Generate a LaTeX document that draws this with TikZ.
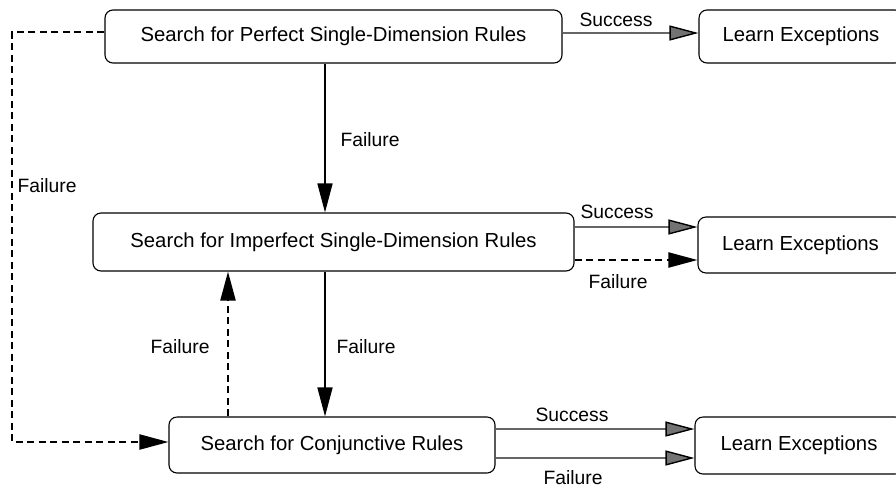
\documentclass[tikz,border=0pt]{standalone}
\usepackage{fontspec}
\setmainfont{Liberation Sans}
\usetikzlibrary{arrows.meta}
\begin{document}
\begin{tikzpicture}[x=1pt,y=1pt,
  box/.style={draw=black, line width=1.1pt, rounded corners=8pt, inner sep=0pt,
    font=\fontsize{20.3}{22}\selectfont},
  lbl/.style={font=\fontsize{19.3}{20}\selectfont, inner sep=0pt},
  solidarrow/.style={line width=1.6pt, -{Triangle[length=29pt,width=15pt]}},
  dasharrow/.style={line width=2.2pt, dash pattern=on 7pt off 4.5pt, -{Triangle[length=29pt,width=15pt]}},
  succarrow/.style={line width=1.4pt, draw=black!60, -{Triangle[length=29pt,width=15pt,color=black,fill=black!55]}}
]
\useasboundingbox (0,0) rectangle (896,-491);
\clip (0,0) rectangle (896,-491);
\fill[white] (0,0) rectangle (896,-491);

% boxes
\node[box, minimum width=457pt, minimum height=53pt] (b1) at (333.5,-36.5) {Search for Perfect Single-Dimension Rules};
\node[box, minimum width=481pt, minimum height=58pt] (b2) at (333.5,-242) {Search for Imperfect Single-Dimension Rules};
\node[box, minimum width=326pt, minimum height=56pt] (b3) at (332,-445) {Search for Conjunctive Rules};
\node[box, minimum width=204pt, minimum height=53pt] (l1) at (801,-36.5) {Learn Exceptions};
\node[box, minimum width=205pt, minimum height=56pt] (l2) at (800.5,-245) {Learn Exceptions};
\node[box, minimum width=208pt, minimum height=57pt] (l3) at (799,-445.5) {Learn Exceptions};

% helper coordinates
\coordinate (lt) at (12,-32);
\coordinate (lb) at (12,-442);

% success / failure to exceptions
\draw[succarrow] (b1.east |- 0,-33) -- (l1.west |- 0,-33);
\draw[succarrow] (b2.east |- 0,-227) -- (l2.west |- 0,-227);
\draw[dasharrow] (b2.east |- 0,-260) -- (l2.west |- 0,-260);
\draw[succarrow] (b3.east |- 0,-429) -- (l3.west |- 0,-429);
\draw[succarrow] (b3.east |- 0,-458) -- (l3.west |- 0,-458);

% vertical arrows
\draw[solidarrow] (b1.south -| 325,0) -- (b2.north -| 325,0);
\draw[solidarrow] (b2.south -| 325,0) -- (b3.north -| 325,0);
\draw[dasharrow] (b3.north -| 228,0) -- (b2.south -| 228,0);

% left loop
\draw[dasharrow] (b1.west |- lt) -- (lt) -- (lb) -- (b3.west |- lb);

% labels
\node[lbl] (s1) at (616,-20) {Success};
\node[lbl] (s2) at (617,-212) {Success};
\node[lbl] (f2) at (618,-282) {Failure};
\node[lbl] (s3) at (572,-415) {Success};
\node[lbl] (f3) at (573,-478) {Failure};
\node[lbl] (fv1) at (370,-140) {Failure};
\node[lbl] (fl) at (47,-186) {Failure};
\node[lbl] (fd) at (180,-347) {Failure};
\node[lbl] (fv2) at (366,-347) {Failure};
\end{tikzpicture}
\end{document}
